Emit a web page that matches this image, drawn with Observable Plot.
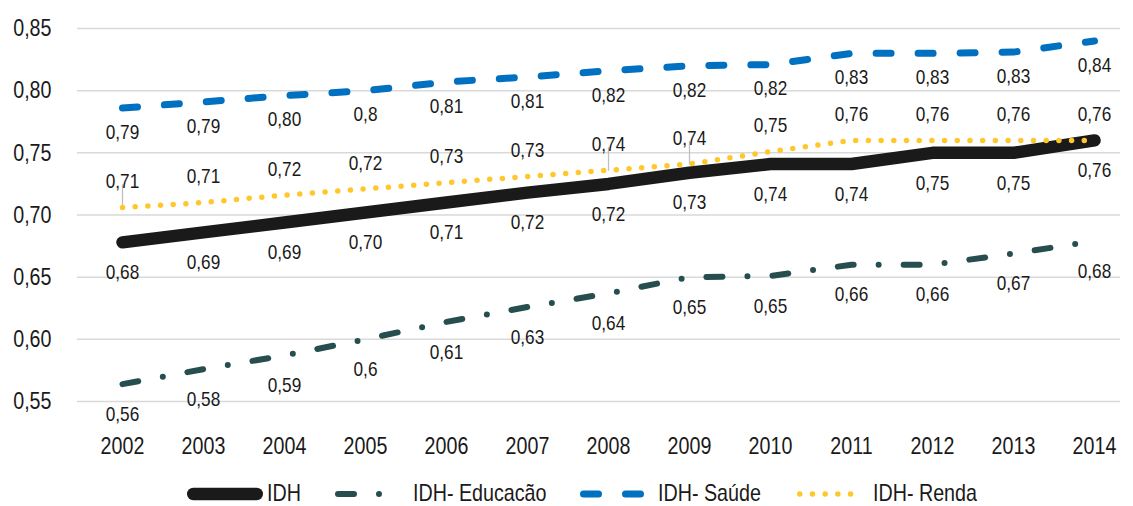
<!DOCTYPE html>
<html>
<head>
<meta charset="utf-8">
<script src="https://cdn.jsdelivr.net/npm/d3@7"></script>
<script src="https://cdn.jsdelivr.net/npm/@observablehq/plot@0.6"></script>
<style>
  html, body { margin: 0; padding: 0; background: #fff; }
  body { width: 1133px; height: 506px; overflow: hidden; font-family: "Liberation Sans", Arial, sans-serif; color: #1a1a1a; }
  #chart { height: 475px; }
  #legend { position: relative; height: 31px; font-size: 24px; white-space: nowrap; }
  #legend .sample { position: absolute; top: 12px; display: block; }
  #legend .label { position: absolute; top: 6px; line-height: 24px; transform: scaleX(0.82); transform-origin: left center; }
</style>
</head>
<body>
<div id="chart"></div>
<div id="legend"></div>
<script>
const years = ["2002","2003","2004","2005","2006","2007","2008","2009","2010","2011","2012","2013","2014"];

const idh      = [0.678, 0.686, 0.694, 0.702, 0.710, 0.718, 0.725, 0.734, 0.741, 0.741, 0.750, 0.750, 0.760];
const educacao = [0.564, 0.576, 0.587, 0.600, 0.614, 0.626, 0.637, 0.650, 0.651, 0.660, 0.660, 0.669, 0.679];
const saude    = [0.786, 0.791, 0.796, 0.800, 0.807, 0.811, 0.816, 0.820, 0.821, 0.830, 0.830, 0.831, 0.840];
const renda    = [0.706, 0.710, 0.716, 0.721, 0.726, 0.731, 0.736, 0.741, 0.751, 0.760, 0.760, 0.760, 0.760];

const idhLabels      = ["0,68","0,69","0,69","0,70","0,71","0,72","0,72","0,73","0,74","0,74","0,75","0,75","0,76"];
const educacaoLabels = ["0,56","0,58","0,59","0,6","0,61","0,63","0,64","0,65","0,65","0,66","0,66","0,67","0,68"];
const saudeLabels    = ["0,79","0,79","0,80","0,8","0,81","0,81","0,82","0,82","0,82","0,83","0,83","0,83","0,84"];
const rendaLabels    = ["0,71","0,71","0,72","0,72","0,73","0,73","0,74","0,74","0,75","0,76","0,76","0,76","0,76"];

// Renda labels that have a leader line to their point
const rendaLeaderYears = ["2002", "2008", "2009"];

const yTicks = [0.55, 0.60, 0.65, 0.70, 0.75, 0.80, 0.85];
const seriesNames = ["IDH", "IDH- Educacão", "IDH- Saúde", "IDH- Renda"];

const FONT = '"Liberation Sans", Arial, sans-serif';
const NARROW = 0.82;

const styles = {
  "IDH":           {stroke: "#1a1a1a", strokeWidth: 12.5, strokeDasharray: null,         dy: 30},
  "IDH- Educacão": {stroke: "#264e4e", strokeWidth: 6,    strokeDasharray: "16,25,0,25", dy: 30},
  "IDH- Saúde":    {stroke: "#0070c0", strokeWidth: 7,    strokeDasharray: "15,27",      dy: 24},
  "IDH- Renda":    {stroke: "#ffc72c", strokeWidth: 5.5,  strokeDasharray: "0,12.7",     dy: -26}
};

const build = (vals, labels) => years.map((y, i) => ({year: y, v: vals[i], label: labels[i]}));
const series = [
  ["IDH", build(idh, idhLabels)],
  ["IDH- Educacão", build(educacao, educacaoLabels)],
  ["IDH- Saúde", build(saude, saudeLabels)],
  ["IDH- Renda", build(renda, rendaLabels)]
];
const rendaLeaders = series[3][1].filter(d => rendaLeaderYears.includes(d.year));

const fmt = d => d3.format(".2f")(d).replace(".", ",");

const marks = [
  Plot.gridY(yTicks, {stroke: "#d9d9d9", strokeOpacity: 1, strokeWidth: 1.5}),
  Plot.axisY(yTicks, {tickSize: 0, tickPadding: 26, tickFormat: fmt, fontSize: 24, fill: "#1a1a1a"}),
  Plot.axisX({tickSize: 0, tickPadding: 35, fontSize: 24, fill: "#1a1a1a"}),
  Plot.ruleX(rendaLeaders, {x: "year", y1: "v", y2: d => d.v + 0.015, stroke: "#bfbfbf", strokeWidth: 1.3, insetBottom: 4, insetTop: 1})
];
for (const [name, data] of series) {
  const s = styles[name];
  marks.push(Plot.line(data, {
    x: "year", y: "v", stroke: s.stroke, strokeWidth: s.strokeWidth,
    strokeDasharray: s.strokeDasharray, strokeLinecap: "round", strokeLinejoin: "round"
  }));
}
for (const [name, data] of series) {
  const s = styles[name];
  marks.push(Plot.text(data, {x: "year", y: "v", text: "label", dy: s.dy, fontSize: 21, fill: "#1a1a1a"}));
}

const chart = Plot.plot({
  width: 1133,
  height: 475,
  marginLeft: 77,
  marginRight: 13,
  marginTop: 28,
  marginBottom: 74,
  style: {fontFamily: FONT, background: "#fff", color: "#1a1a1a", overflow: "visible"},
  x: {type: "point", domain: years, range: [117.5, 1099], padding: 0, label: null},
  y: {domain: [0.55, 0.85], label: null},
  marks
});

// Emulate a narrow (Arial Narrow–like) face by compressing each text horizontally about its anchor
chart.querySelectorAll("text").forEach(t => {
  const tr = t.getAttribute("transform");
  if (tr) {
    t.setAttribute("transform", tr + ` scale(${NARROW},1)`);
  } else {
    const x = +(t.getAttribute("x") || 0), y = +(t.getAttribute("y") || 0);
    t.setAttribute("transform", `translate(${x},${y}) scale(${NARROW},1) translate(${-x},${-y})`);
  }
});
document.getElementById("chart").appendChild(chart);

// Legend
const legend = document.getElementById("legend");
const legendLayout = {
  "IDH":           {sx: 187, w: 76, tx: 267},
  "IDH- Educacão": {sx: 335, w: 70, tx: 413},
  "IDH- Saúde":    {sx: 580, w: 66, tx: 658},
  "IDH- Renda":    {sx: 797, w: 65, tx: 873}
};
for (const name of seriesNames) {
  const s = styles[name];
  const L = legendLayout[name];
  const svg = d3.create("svg").attr("class", "sample").attr("width", L.w).attr("height", 14)
    .style("left", L.sx + "px");
  const pad = s.strokeWidth / 2;
  svg.append("line")
    .attr("x1", pad).attr("x2", L.w - pad).attr("y1", 7).attr("y2", 7)
    .attr("stroke", s.stroke).attr("stroke-width", s.strokeWidth)
    .attr("stroke-linecap", "round")
    .attr("stroke-dasharray", s.strokeDasharray);
  legend.appendChild(svg.node());
  const span = document.createElement("span");
  span.className = "label";
  span.style.left = L.tx + "px";
  span.textContent = name;
  legend.appendChild(span);
}
</script>
</body>
</html>
